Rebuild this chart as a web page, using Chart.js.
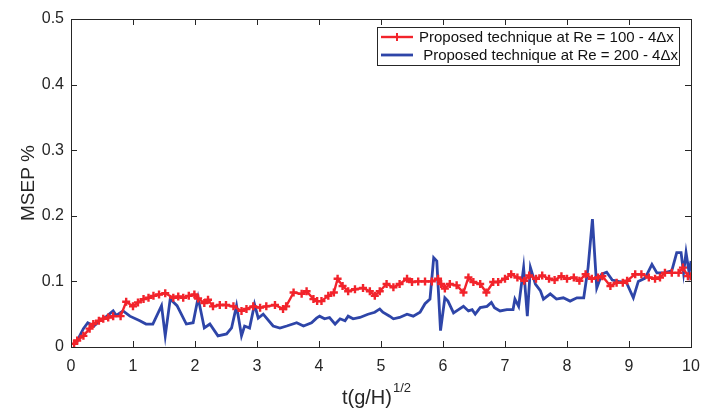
<!DOCTYPE html>
<html>
<head>
<meta charset="utf-8">
<script src="https://cdn.jsdelivr.net/npm/chart.js@4.4.1/dist/chart.umd.min.js"></script>
<style>
  html, body { margin: 0; padding: 0; background: #fff; }
  #wrap { width: 704px; height: 412px; position: relative; }
</style>
</head>
<body>
<div id="wrap"><canvas id="chart" width="704" height="412"></canvas></div>
<script>
// Re = 100 (red, + markers)
const re100X = [0.05, 0.1, 0.2, 0.3, 0.36, 0.45, 0.52, 0.6, 0.68, 0.8, 0.89, 1.0, 1.08, 1.17, 1.25, 1.33, 1.42, 1.52, 1.65, 1.73,
    1.81, 1.9, 1.99, 2.05, 2.15, 2.21, 2.29, 2.4, 2.5, 2.62, 2.75, 2.83, 2.94, 3.05, 3.15, 3.29, 3.42, 3.47, 3.59, 3.72,
    3.8, 3.91, 3.97, 4.04, 4.15, 4.24, 4.3, 4.38, 4.47, 4.58, 4.71, 4.82, 4.9, 4.98, 5.09, 5.2, 5.3, 5.42, 5.5, 5.6,
    5.71, 5.82, 5.92, 5.97, 6.03, 6.11, 6.22, 6.33, 6.41, 6.49, 6.6, 6.7, 6.81, 6.89, 7.0, 7.1, 7.2, 7.31, 7.39, 7.5,
    7.6, 7.71, 7.8, 7.91, 8.0, 8.11, 8.2, 8.3, 8.4, 8.5, 8.57, 8.7, 8.8, 8.9, 8.97, 9.1, 9.2, 9.32, 9.42, 9.5,
    9.58, 9.69, 9.8, 9.87, 9.95, 10.0];
const re100Y = [0.005, 0.01, 0.017, 0.028, 0.035, 0.04, 0.043, 0.045, 0.047, 0.047, 0.069, 0.062, 0.068, 0.073, 0.075, 0.078, 0.08, 0.082, 0.075, 0.077,
    0.075, 0.078, 0.08, 0.074, 0.067, 0.072, 0.062, 0.064, 0.064, 0.062, 0.055, 0.058, 0.062, 0.06, 0.062, 0.064, 0.058, 0.062, 0.083, 0.081,
    0.085, 0.073, 0.07, 0.07, 0.078, 0.083, 0.104, 0.093, 0.085, 0.088, 0.09, 0.085, 0.078, 0.085, 0.096, 0.091, 0.096, 0.104, 0.099, 0.1,
    0.1, 0.1, 0.104, 0.096, 0.089, 0.096, 0.094, 0.083, 0.106, 0.099, 0.096, 0.083, 0.099, 0.099, 0.104, 0.111, 0.106, 0.101, 0.109, 0.104,
    0.109, 0.104, 0.102, 0.108, 0.104, 0.106, 0.101, 0.111, 0.104, 0.106, 0.108, 0.093, 0.098, 0.098, 0.101, 0.111, 0.111, 0.106, 0.104, 0.106,
    0.113, 0.113, 0.113, 0.121, 0.108, 0.108];

// Re = 200 (blue)
const re200X = [0.05, 0.09, 0.14, 0.2, 0.27, 0.37, 0.46, 0.55, 0.68, 0.73, 0.84, 0.95, 1.11, 1.21, 1.32, 1.46, 1.52, 1.6, 1.71, 1.86,
    1.97, 2.05, 2.15, 2.24, 2.37, 2.51, 2.59, 2.67, 2.75, 2.8, 2.88, 2.96, 3.02, 3.1, 3.26, 3.37, 3.48, 3.64, 3.75, 3.88,
    3.96, 4.01, 4.09, 4.17, 4.26, 4.34, 4.42, 4.47, 4.55, 4.66, 4.79, 4.9, 4.98, 5.03, 5.14, 5.2, 5.3, 5.42, 5.52, 5.63,
    5.71, 5.79, 5.85, 5.9, 5.96, 6.03, 6.08, 6.17, 6.25, 6.33, 6.41, 6.47, 6.52, 6.6, 6.71, 6.78, 6.83, 6.92, 7.03, 7.13,
    7.16, 7.22, 7.3, 7.36, 7.41, 7.49, 7.57, 7.62, 7.73, 7.83, 7.94, 8.05, 8.16, 8.27, 8.34, 8.41, 8.48, 8.56, 8.64, 8.73,
    8.83, 8.96, 9.07, 9.15, 9.26, 9.37, 9.45, 9.56, 9.69, 9.77, 9.84, 9.88, 9.92, 9.97, 10.0];
const re200Y = [0.005, 0.007, 0.017, 0.028, 0.037, 0.032, 0.04, 0.045, 0.055, 0.048, 0.055, 0.047, 0.04, 0.035, 0.035, 0.063, 0.017, 0.073, 0.063, 0.035,
    0.037, 0.075, 0.029, 0.035, 0.017, 0.02, 0.029, 0.063, 0.017, 0.032, 0.029, 0.065, 0.044, 0.05, 0.032, 0.029, 0.032, 0.037, 0.032, 0.037,
    0.044, 0.047, 0.043, 0.045, 0.035, 0.043, 0.04, 0.047, 0.043, 0.045, 0.05, 0.053, 0.058, 0.053, 0.047, 0.043, 0.045, 0.05, 0.047, 0.053,
    0.066, 0.073, 0.136, 0.131, 0.025, 0.075, 0.07, 0.052, 0.057, 0.062, 0.055, 0.057, 0.05, 0.06, 0.062, 0.068, 0.06, 0.055, 0.057, 0.057,
    0.073, 0.062, 0.121, 0.047, 0.121, 0.096, 0.086, 0.073, 0.081, 0.073, 0.075, 0.07, 0.075, 0.075, 0.121, 0.195, 0.09, 0.111, 0.114, 0.102,
    0.1, 0.098, 0.075, 0.1, 0.105, 0.126, 0.113, 0.113, 0.116, 0.144, 0.144, 0.113, 0.144, 0.113, 0.131];

const xTicks = [0, 1, 2, 3, 4, 5, 6, 7, 8, 9, 10];
const yTicks = [0, 0.1, 0.2, 0.3, 0.4, 0.5];
const seriesLabels = ['Proposed technique at Re = 100 - 4\u0394x', ' Proposed technique at Re = 200 - 4\u0394x'];

const FONT = '"Liberation Sans", Arial, sans-serif';
const AXIS = '#262626';
const RED = '#f2232b';
const BLUE = '#2e45a8';

function pts(xs, ys) {
    return xs.map((x, i) => ({x: x, y: ys[i]}));
}

// MATLAB style box, inward ticks, axis titles, legend
const matlabBox = {
    id: 'matlabBox',
    afterDraw(chart) {
        const ctx = chart.ctx;
        const a = chart.chartArea;
        const xs = chart.scales.x;
        const ys = chart.scales.y;
        ctx.save();
        ctx.strokeStyle = AXIS;
        ctx.lineWidth = 1;
        ctx.strokeRect(Math.round(a.left) + 0.5, Math.round(a.top) + 0.5, Math.round(a.right - a.left), Math.round(a.bottom - a.top));
        ctx.beginPath();
        xTicks.forEach((v) => {
            const px = Math.round(xs.getPixelForValue(v)) + 0.5;
            ctx.moveTo(px, a.bottom); ctx.lineTo(px, a.bottom - 6);
            ctx.moveTo(px, a.top); ctx.lineTo(px, a.top + 6);
        });
        yTicks.forEach((v) => {
            const py = Math.round(ys.getPixelForValue(v)) + 0.5;
            ctx.moveTo(a.left, py); ctx.lineTo(a.left + 6, py);
            ctx.moveTo(a.right, py); ctx.lineTo(a.right - 6, py);
        });
        ctx.stroke();

        // axis titles
        ctx.fillStyle = AXIS;
        ctx.textBaseline = 'middle';
        const main = 't(g/H)';
        ctx.font = '20px ' + FONT;
        const w1 = ctx.measureText(main).width;
        ctx.font = '13px ' + FONT;
        const w2 = ctx.measureText('1/2').width;
        const cx = (a.left + a.right) / 2 - 5;
        const sx = cx - (w1 + w2) / 2;
        ctx.font = '20px ' + FONT;
        ctx.textAlign = 'left';
        ctx.fillText(main, sx, 398);
        ctx.font = '13px ' + FONT;
        ctx.fillText('1/2', sx + w1 + 1, 388);

        ctx.save();
        ctx.translate(29, (a.top + a.bottom) / 2);
        ctx.rotate(-Math.PI / 2);
        ctx.font = '19px ' + FONT;
        ctx.textAlign = 'center';
        ctx.fillText('MSEP %', 0, 0);
        ctx.restore();

        // legend
        const lx = 377, ly = 27, lw = 302, lh = 38;
        ctx.fillStyle = '#fff';
        ctx.fillRect(lx, ly, lw, lh);
        ctx.strokeStyle = AXIS;
        ctx.lineWidth = 1;
        ctx.strokeRect(lx + 0.5, ly + 0.5, lw, lh);
        const rows = [ly + 10, ly + 28];
        chart.data.datasets.forEach((ds, i) => {
            const y = rows[i];
            ctx.strokeStyle = ds.borderColor;
            ctx.lineWidth = ds.borderWidth;
            ctx.beginPath();
            ctx.moveTo(lx + 4, y); ctx.lineTo(lx + 36, y);
            ctx.stroke();
            if (i === 0) {
                ctx.lineWidth = 2;
                ctx.beginPath();
                ctx.moveTo(lx + 20, y - 4); ctx.lineTo(lx + 20, y + 4);
                ctx.moveTo(lx + 16, y); ctx.lineTo(lx + 24, y);
                ctx.stroke();
            }
            ctx.fillStyle = '#111';
            ctx.font = '15px ' + FONT;
            ctx.textAlign = 'left';
            ctx.textBaseline = 'middle';
            ctx.fillText(ds.label, lx + 42, y + 1);
        });
        ctx.restore();
    }
};

new Chart(document.getElementById('chart'), {
    type: 'line',
    data: {
        datasets: [{
            label: seriesLabels[0],
            data: pts(re100X, re100Y),
            borderColor: RED,
            backgroundColor: RED,
            borderWidth: 2.4,
            pointStyle: 'cross',
            pointRadius: 4,
            pointBorderWidth: 2.4,
            pointBorderColor: RED,
            tension: 0
        },
            {
                label: seriesLabels[1],
                data: pts(re200X, re200Y),
                borderColor: BLUE,
                backgroundColor: BLUE,
                borderWidth: 2.8,
                pointRadius: 0,
                tension: 0
            }]
    },
    options: {
        responsive: false,
        animation: false,
        devicePixelRatio: 1,
        layout: {padding: {top: 19, right: 13, left: 0, bottom: 0}},
        plugins: {
            legend: {display: false},
            tooltip: {enabled: false}
        },
        scales: {
            x: {
                type: 'linear',
                min: 0,
                max: 10,
                afterBuildTicks: (s) => { s.ticks = xTicks.map((v) => ({value: v})); },
                afterFit: (s) => { s.height = 65; s.paddingLeft = 0; s.paddingRight = 0; },
                grid: {display: false, drawTicks: false},
                border: {display: false},
                ticks: {
                    color: AXIS,
                    font: {family: FONT, size: 16},
                    padding: 10,
                    maxRotation: 0
                }
            },
            y: {
                min: 0,
                max: 0.5,
                afterBuildTicks: (s) => { s.ticks = yTicks.map((v) => ({value: v})); },
                afterFit: (s) => { s.width = 71; s.paddingTop = 0; s.paddingBottom = 0; },
                grid: {display: false, drawTicks: false},
                border: {display: false},
                ticks: {
                    color: AXIS,
                    font: {family: FONT, size: 16},
                    padding: 7,
                    callback: (v) => String(Math.round(v * 10) / 10)
                }
            }
        }
    },
    plugins: [matlabBox]
});
</script>
</body>
</html>
